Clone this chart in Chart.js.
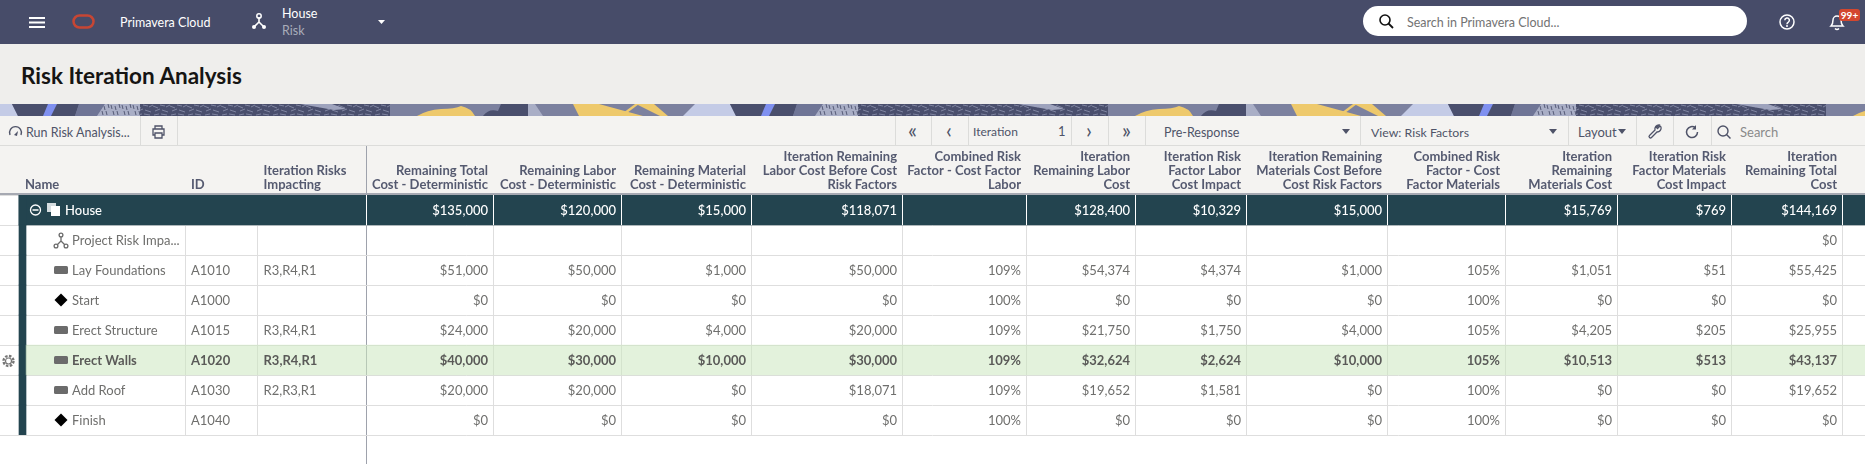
<!DOCTYPE html>
<html>
<head>
<meta charset="utf-8">
<title>Risk Iteration Analysis</title>
<script src="https://cdn.jsdelivr.net/npm/chart.js@4/dist/chart.umd.js"></script>
<style>
  html, body { margin: 0; padding: 0; width: 1865px; height: 464px; overflow: hidden; background: #fff; font-family: Lato, "Open Sans", sans-serif; font-size: 12.5px; }
  .abs { position: absolute; white-space: nowrap; }
  .mid { transform: translateY(-50%); }
  .bg { position: absolute; left: 0; width: 1865px; }
  .sep { position: absolute; top: 116px; width: 1px; height: 29px; background: #dcdcda; }
  svg { position: absolute; overflow: visible; }
  canvas { position: absolute; left: 0; top: 146px; }
  .tool { color: #4f5368; }
  .nav { font-size: 21px; line-height: 21px; }
</style>
</head>
<body>
<!-- page chrome -->
<div class="bg" style="top:0;height:44px;background:#474c69"></div>
<div class="bg" style="top:44px;height:60px;background:#efeeec"></div>
<svg style="left:0;top:104px" width="1865" height="12" viewBox="0 0 1865 12">
  <defs>
    <pattern id="hatch" width="17" height="12" patternUnits="userSpaceOnUse">
      <rect width="17" height="12" fill="#4a4f6d"/>
      <path d="M0 2l5 2M7 1l5 1M13 3l4-2M2 7l5-2M9 6l6 2M1 11l5-1M8 10l6 1" stroke="#7f84a0" stroke-width="1" fill="none"/>
    </pattern>
    <pattern id="hatchLight" width="11" height="12" patternUnits="userSpaceOnUse">
      <rect width="11" height="12" fill="#a9aec6"/>
      <path d="M1 1l1 4M5 2l1 4M9 0l1 4M3 7l1 4M7 7l1 4" stroke="#555a76" stroke-width="1" fill="none"/>
    </pattern>
    <g id="tile">
      <rect width="718" height="12" fill="#7c819f"/>
      <path d="M0 0h12l6 12H0z" fill="#c4cbe6"/>
      <path d="M12 0h67l-4 12H18z" fill="#4a4f6d"/>
      <path d="M48 0h9l-6 12h-8z" fill="#7f90f0"/>
      <path d="M79 0h26l-8 12H75z" fill="#6f7596"/>
      <path d="M105 0h35v12H97z" fill="url(#hatchLight)"/>
      <rect x="140" width="250" height="12" fill="url(#hatch)"/>
      <path d="M300 0h32l14 5-12 1z" fill="#9ea3bd"/>
      <path d="M417 12q10-6 24-7 14 0 20-3 10 2 14 10z" fill="#eec96c"/>
      <path d="M483 12q6-8 15-5l3-7h27v12z" fill="#4a4f6d"/>
      <path d="M528 0h7l8 12h-15z" fill="#a9aec6"/>
      <path d="M573 0h26l44 12h-64z" fill="#eec96c"/>
      <path d="M636 0h18l14 12h-8z" fill="#eec96c"/>
      <path d="M635 0l-16 12h4l16-12z" fill="#eec96c"/>
      <path d="M695 0h38l10 12h-60z" fill="#c4cbe6"/>
    </g>
  </defs>
  <use href="#tile"/><use href="#tile" x="718"/><use href="#tile" x="1436"/>
</svg>
<div class="bg" style="top:116px;height:30px;background:#f4f3f1"></div>
<div class="bg" style="top:145px;height:1px;background:#dcdcda"></div>
<div class="bg" style="top:146px;height:47px;background:#f4f3f1"></div>
<div class="bg" style="top:193px;height:2.6px;background:#a6a9b2"></div>
<div class="abs" style="left:366px;top:146px;width:1px;height:318px;background:#9ea2ac"></div>

<!-- top navigation -->
<svg style="left:29px;top:17px" width="16" height="11"><path d="M0 1h16M0 5.500h16M0 10h16" stroke="#fff" stroke-width="2"/></svg>
<svg style="left:72px;top:14px" width="23" height="15"><rect x="1.500" y="1.500" width="20" height="12" rx="6" fill="none" stroke="#c74634" stroke-width="2.500"/></svg>
<div class="abs mid" style="left:120px;top:22px;color:#fff">Primavera Cloud</div>
<svg style="left:251px;top:13px" width="16" height="17"><path d="M8 4v5M8 9l-5 5M8 9l5 5" stroke="#fff" stroke-width="1.600" fill="none"/><circle cx="8" cy="3" r="2.200" fill="none" stroke="#fff" stroke-width="1.500"/><circle cx="3" cy="14" r="2" fill="#fff"/><circle cx="13" cy="14" r="2" fill="#fff"/></svg>
<div class="abs mid" style="left:282px;top:13px;color:#fff">House</div>
<div class="abs mid" style="left:282px;top:30px;color:#a9acba">Risk</div>
<svg style="left:378px;top:20px" width="7" height="4"><path d="M0 0h7L3.500 4z" fill="#fff"/></svg>
<div class="abs" style="left:1363px;top:6px;width:384px;height:30px;border-radius:15px;background:#fff"></div>
<svg style="left:1379px;top:14px" width="15" height="15"><circle cx="6" cy="6" r="5" fill="none" stroke="#111" stroke-width="1.600"/><path d="M9.500 9.500l4.500 4.500" stroke="#111" stroke-width="1.800"/></svg>
<div class="abs mid" style="left:1407px;top:22px;color:#737373">Search in Primavera Cloud...</div>
<svg style="left:1779px;top:14px" width="16" height="16"><circle cx="8" cy="8" r="7" fill="none" stroke="#fff" stroke-width="1.500"/><path d="M5.800 6.300a2.300 2.300 0 1 1 3.400 2c-.8.500-1.200.8-1.200 1.900" fill="none" stroke="#fff" stroke-width="1.500"/><circle cx="8" cy="12" r="1" fill="#fff"/></svg>
<svg style="left:1829px;top:14px" width="16" height="17"><path d="M2 12q2-2 2-6a4 4 0 0 1 8 0q0 4 2 6z" fill="none" stroke="#fff" stroke-width="1.500"/><path d="M6 14.500q2 2 4 0" fill="none" stroke="#fff" stroke-width="1.500"/></svg>
<div class="abs" style="left:1839px;top:9px;width:21px;height:12px;line-height:12px;border-radius:3px;background:#d3472f;color:#fff;font-size:10px;font-weight:bold;text-align:center">99+</div>

<div class="abs mid" style="left:21px;top:75px;font-size:22.500px;font-weight:bold;color:#161513">Risk Iteration Analysis</div>

<!-- toolbar -->
<svg style="left:8px;top:126px" width="15" height="11"><path d="M2 9a6 6 0 1 1 11 0" fill="none" stroke="#4f5368" stroke-width="1.400"/><path d="M6 9l4-4-1 5z" fill="#4f5368"/></svg>
<div class="abs mid tool" style="left:26px;top:132px">Run Risk Analysis...</div>
<div class="sep" style="left:140px"></div>
<svg style="left:152px;top:125px" width="13" height="14"><path d="M3 4V1h7v3M3 10H1V4h11v6h-2M3 8h7v5H3z" fill="none" stroke="#4f5368" stroke-width="1.300"/></svg>
<div class="sep" style="left:177px"></div>
<div class="sep" style="left:895px"></div>
<div class="abs mid tool nav" style="left:908px;top:129px">«</div>
<div class="sep" style="left:931px"></div>
<div class="abs mid tool nav" style="left:946px;top:129px">‹</div>
<div class="sep" style="left:968px"></div>
<div class="abs mid tool" style="left:973px;top:131px;font-size:12px">Iteration</div>
<div class="abs mid tool" style="left:1058px;top:131px;font-size:13px">1</div>
<div class="sep" style="left:1071px"></div>
<div class="abs mid tool nav" style="left:1086px;top:129px">›</div>
<div class="sep" style="left:1108px"></div>
<div class="abs mid tool nav" style="left:1122px;top:129px">»</div>
<div class="sep" style="left:1145px"></div>
<div class="abs mid tool" style="left:1164px;top:132px">Pre-Response</div>
<svg style="left:1342px;top:129px" width="8" height="5"><path d="M0 0h8L4 5z" fill="#4f5368"/></svg>
<div class="sep" style="left:1360px"></div>
<div class="abs mid tool" style="left:1371px;top:132px;font-size:12.300px">View: Risk Factors</div>
<svg style="left:1549px;top:129px" width="8" height="5"><path d="M0 0h8L4 5z" fill="#4f5368"/></svg>
<div class="sep" style="left:1568px"></div>
<div class="abs mid tool" style="left:1578px;top:132px;font-size:13px">Layout</div>
<svg style="left:1618px;top:129px" width="8" height="5"><path d="M0 0h8L4 5z" fill="#4f5368"/></svg>
<div class="sep" style="left:1636px"></div>
<svg style="left:1648px;top:124px" width="14" height="15"><path d="M12 2L9.500 4.500 8.500 3.500 11 1a4 4 0 0 0-4 5L1.500 11.500a1.400 1.400 0 0 0 2 2L9 8a4 4 0 0 0 4-5z" fill="none" stroke="#4f5368" stroke-width="1.300"/></svg>
<div class="sep" style="left:1673px"></div>
<svg style="left:1685px;top:125px" width="14" height="14"><path d="M12.500 7a5.500 5.500 0 1 1-2-4.200" fill="none" stroke="#4f5368" stroke-width="1.500"/><path d="M11 0v4.500H7z" fill="#4f5368"/></svg>
<div class="sep" style="left:1711px"></div>
<svg style="left:1717px;top:125px" width="14" height="14"><circle cx="6" cy="6" r="5" fill="none" stroke="#4f5368" stroke-width="1.400"/><path d="M9.500 9.500l4 4" stroke="#4f5368" stroke-width="1.500"/></svg>
<div class="abs mid" style="left:1740px;top:132px;color:#8a8a8a;font-size:13px">Search</div>

<canvas id="grid" width="1865" height="318" style="width:1865px;height:318px"></canvas>

<svg style="left:1px;top:354px;z-index:2" width="15" height="14"><circle cx="7.500" cy="7" r="5" fill="none" stroke="#777" stroke-width="2.400" stroke-dasharray="2.500 1.400"/><circle cx="7.500" cy="7" r="3" fill="none" stroke="#777" stroke-width="1.200"/></svg>

<script>
// Table contents, one small array per column
const rowNames = ['House', 'Project Risk Impa...', 'Lay Foundations', 'Start', 'Erect Structure', 'Erect Walls', 'Add Roof', 'Finish'];
const rowKinds = ['project', 'node', 'task', 'milestone', 'task', 'task', 'task', 'milestone'];
const activityIds = ['', '', 'A1010', 'A1000', 'A1015', 'A1020', 'A1030', 'A1040'];
const iterationRisks = ['', '', 'R3,R4,R1', '', 'R3,R4,R1', 'R3,R4,R1', 'R2,R3,R1', ''];

const remainingTotalCost = [135000, null, 51000, 0, 24000, 40000, 20000, 0];
const remainingLaborCost = [120000, null, 50000, 0, 20000, 30000, 20000, 0];
const remainingMaterialCost = [15000, null, 1000, 0, 4000, 10000, 0, 0];
const laborBeforeRisk = [118071, null, 50000, 0, 20000, 30000, 18071, 0];
const riskFactorLabor = [null, null, 109, 100, 109, 109, 109, 100];
const iterationLaborCost = [128400, null, 54374, 0, 21750, 32624, 19652, 0];
const laborCostImpact = [10329, null, 4374, 0, 1750, 2624, 1581, 0];
const materialsBeforeRisk = [15000, null, 1000, 0, 4000, 10000, 0, 0];
const riskFactorMaterials = [null, null, 105, 100, 105, 105, 100, 100];
const iterationMaterialsCost = [15769, null, 1051, 0, 4205, 10513, 0, 0];
const materialsCostImpact = [769, null, 51, 0, 205, 513, 0, 0];
const iterationTotalCost = [144169, 0, 55425, 0, 25955, 43137, 19652, 0];

const leftHeaders = [['Name'], ['ID'], ['Iteration Risks', 'Impacting']];
const columnHeaders = [
  ['Remaining Total', 'Cost - Deterministic'],
  ['Remaining Labor', 'Cost - Deterministic'],
  ['Remaining Material', 'Cost - Deterministic'],
  ['Iteration Remaining', 'Labor Cost Before Cost', 'Risk Factors'],
  ['Combined Risk', 'Factor - Cost Factor', 'Labor'],
  ['Iteration', 'Remaining Labor', 'Cost'],
  ['Iteration Risk', 'Factor Labor', 'Cost Impact'],
  ['Iteration Remaining', 'Materials Cost Before', 'Cost Risk Factors'],
  ['Combined Risk', 'Factor - Cost', 'Factor Materials'],
  ['Iteration', 'Remaining', 'Materials Cost'],
  ['Iteration Risk', 'Factor Materials', 'Cost Impact'],
  ['Iteration', 'Remaining Total', 'Cost']
];

// Layout of the grid on the x scale (which runs in page pixels)
const pageWidth = 1865;
const leftEdges = [185, 257, 366];
const columnEdges = [493, 621, 751, 902, 1026, 1135, 1246, 1387, 1505, 1617, 1731, 1842];
const cellPadding = 5;
const fontFamily = 'Lato, "Open Sans", sans-serif';

const costColumns = [
  remainingTotalCost, remainingLaborCost, remainingMaterialCost, laborBeforeRisk,
  riskFactorLabor, iterationLaborCost, laborCostImpact, materialsBeforeRisk,
  riskFactorMaterials, iterationMaterialsCost, materialsCostImpact, iterationTotalCost
];
const percentColumns = [riskFactorLabor, riskFactorMaterials];

function formatCell(column, value) {
  if (value === null) return '';
  if (percentColumns.includes(column)) return value + '%';
  return '$' + value.toLocaleString('en-US');
}

// Every cell is a hidden scatter point, so the library works out where it goes
function textDataset(label, x, align, texts) {
  return {
    type: 'scatter',
    label: label,
    cellAlign: align,
    pointRadius: 0,
    data: rowNames.map((name, i) => ({ x: x, y: name, text: texts[i] }))
  };
}

function bandDataset(label, color, rows, from, to) {
  return {
    type: 'bar',
    label: label,
    grouped: false,
    barPercentage: 1,
    categoryPercentage: 1,
    backgroundColor: color,
    data: rowNames.map((name, i) => rows.includes(i) ? [from, to] : null)
  };
}

const datasets = [
  bandDataset('selected', 'rgba(204,231,191,0.55)', [5], 26, pageWidth),
  bandDataset('stripe', '#23444f', [0, 1, 2, 3, 4, 5, 6, 7], 19, 26),
  bandDataset('summary', '#23444f', [0], 19, pageWidth),
  textDataset('name', 72, 'left', rowNames),
  textDataset('id', 191, 'left', activityIds),
  textDataset('risks', 263.5, 'left', iterationRisks)
];
costColumns.forEach((column, c) => {
  const texts = column.map(v => formatCell(column, v));
  datasets.push(textDataset('col' + c, columnEdges[c] - cellPadding, 'right', texts));
});

function drawIcon(ctx, kind, x, y, color) {
  ctx.save();
  ctx.fillStyle = color;
  ctx.strokeStyle = color;
  if (kind === 'task') {
    ctx.beginPath();
    ctx.roundRect(x - 18, y - 4, 14, 8, 1.5);
    ctx.fill();
  } else if (kind === 'milestone') {
    ctx.fillStyle = '#000';
    ctx.beginPath();
    ctx.moveTo(x - 11, y - 6.5);
    ctx.lineTo(x - 4.5, y);
    ctx.lineTo(x - 11, y + 6.5);
    ctx.lineTo(x - 17.5, y);
    ctx.closePath();
    ctx.fill();
  } else if (kind === 'node') {
    ctx.lineWidth = 1.3;
    ctx.beginPath();
    ctx.moveTo(x - 11, y - 3);
    ctx.lineTo(x - 11, y + 1);
    ctx.lineTo(x - 15, y + 5);
    ctx.moveTo(x - 11, y + 1);
    ctx.lineTo(x - 7, y + 5);
    ctx.stroke();
    [[-11, -5], [-16, 6], [-6, 6]].forEach(p => {
      ctx.beginPath();
      ctx.arc(x + p[0], y + p[1], 1.9, 0, Math.PI * 2);
      ctx.stroke();
    });
  } else if (kind === 'project') {
    // collapse button and the stacked squares next to House
    ctx.lineWidth = 1.3;
    ctx.strokeStyle = '#fff';
    ctx.beginPath();
    ctx.arc(x - 36.5, y, 5, 0, Math.PI * 2);
    ctx.moveTo(x - 39.5, y);
    ctx.lineTo(x - 33.5, y);
    ctx.stroke();
    ctx.fillStyle = '#d5dcdf';
    ctx.fillRect(x - 25, y - 7, 9, 9);
    ctx.fillStyle = '#fff';
    ctx.fillRect(x - 21, y - 4, 9, 10);
  }
  ctx.restore();
}

// Draws the cell texts, the icons and the left hand headers
const cellTextPlugin = {
  id: 'cellText',
  afterDatasetsDraw(chart) {
    const ctx = chart.ctx;
    const area = chart.chartArea;
    const x = chart.scales.x;
    const yTop = chart.scales.y.getPixelForValue(0) - 15;
    ctx.save();

    // white separators on the summary band
    ctx.fillStyle = '#fff';
    [leftEdges[2]].concat(columnEdges).forEach(edge => {
      ctx.fillRect(Math.floor(x.getPixelForValue(edge)), yTop, 1, 30);
    });

    ctx.textBaseline = 'middle';
    chart.data.datasets.forEach((ds, d) => {
      if (ds.type !== 'scatter') return;
      const points = chart.getDatasetMeta(d).data;
      ds.data.forEach((cell, r) => {
        const isSummary = r === 0;
        const isSelected = r === 5;
        const color = isSummary ? '#fff' : isSelected ? '#5a5a58' : '#6f6f6d';
        let px = points[r].x;
        if (ds.label === 'name') {
          drawIcon(ctx, rowKinds[r], px, points[r].y, '#6b6b6b');
          if (isSummary) px = 65;
        }
        ctx.font = (isSelected ? 'bold ' : isSummary ? '500 ' : '') + '13px ' + fontFamily;
        ctx.fillStyle = color;
        ctx.textAlign = ds.cellAlign;
        ctx.fillText(cell.text, px, points[r].y + 1);
      });
    });

    // Name, ID and Iteration Risks are left aligned, unlike the axis labels
    ctx.font = 'bold 13px ' + fontFamily;
    ctx.fillStyle = '#555a70';
    ctx.textAlign = 'left';
    const leftStarts = [25, 191, 263.5];
    leftHeaders.forEach((lines, c) => {
      lines.forEach((line, l) => {
        ctx.fillText(line, leftStarts[c], area.top - 10 - (lines.length - 1 - l) * 14);
      });
    });
    ctx.restore();
  }
};

new Chart(document.getElementById('grid'), {
  type: 'bar',
  data: { labels: rowNames, datasets: datasets },
  plugins: [cellTextPlugin],
  options: {
    indexAxis: 'y',
    responsive: false,
    animation: false,
    events: [],
    devicePixelRatio: 1,
    layout: { padding: { left: 0, right: 0, top: 0, bottom: 29 } },
    plugins: { legend: { display: false }, tooltip: { enabled: false }, title: { display: false } },
    scales: {
      x: {
        type: 'linear',
        position: 'top',
        min: 0,
        max: pageWidth,
        afterBuildTicks(scale) {
          scale.ticks = leftEdges.concat(columnEdges).map(v => ({ value: v }));
        },
        afterFit(scale) {
          scale.height = 49;
          scale.paddingLeft = 0;
          scale.paddingRight = 0;
        },
        border: { display: false },
        grid: {
          drawTicks: false,
          color: ctx => (ctx.tick && ctx.tick.value === leftEdges[2]) ? '#9ea2ac' : '#dedede'
        },
        ticks: {
          autoSkip: false,
          maxRotation: 0,
          minRotation: 0,
          align: 'end',
          labelOffset: -cellPadding,
          padding: 3,
          color: '#555a70',
          font: { family: fontFamily, size: 13, weight: 'bold', lineHeight: '14px' },
          callback(value) {
            const c = columnEdges.indexOf(value);
            return c >= 0 ? columnHeaders[c] : '';
          }
        }
      },
      y: {
        type: 'category',
        labels: rowNames,
        offset: true,
        afterFit(scale) { scale.width = 0; },
        border: { display: false },
        grid: { offset: true, drawTicks: false, color: '#dedede' },
        ticks: { display: false }
      }
    }
  }
});
</script>
</body>
</html>
